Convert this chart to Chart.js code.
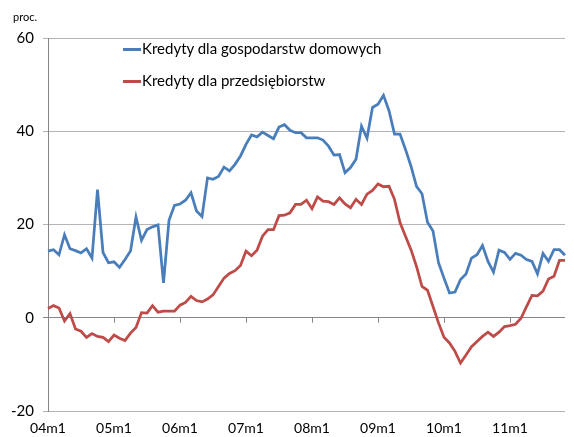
<!DOCTYPE html>
<html>
<head>
<meta charset="utf-8">
<script src="https://cdn.jsdelivr.net/npm/chart.js@4/dist/chart.umd.min.js"></script>
<style>
  html, body { margin: 0; padding: 0; background: #fff; }
  #wrap { position: relative; width: 574px; height: 437px; overflow: hidden; font-family: Lato, "Open Sans", sans-serif; }
  #c { position: absolute; left: 0; top: 0; }
  .unit { position: absolute; left: 13px; top: 10px; font-size: 11px; color: #000; }
  .leg { position: absolute; font-size: 15px; color: #000; white-space: nowrap; line-height: 16px; }
  .leg span.sw { display: inline-block; width: 18px; height: 3px; vertical-align: middle; margin-right: 1px; position: relative; top: -1px; }
</style>
</head>
<body>
<div id="wrap">
  <canvas id="c" width="574" height="437"></canvas>
  <div class="unit">proc.</div>
  <div class="leg" style="left:123px; top:40px;"><span class="sw" style="background:#4A7EBB"></span>Kredyty dla gospodarstw domowych</div>
  <div class="leg" style="left:123px; top:72px;"><span class="sw" style="background:#BE4B48"></span>Kredyty dla przedsiębiorstw</div>
</div>
<script>
// categories: months 2004m1 .. 2011m11
const years = ['04','05','06','07','08','09','10','11'];
const months = [];
years.forEach(y => { for (let m = 1; m <= 12; m++) months.push(y + 'm' + m); });
const categories = months.slice(0, 95);

const yTicks = [-20, 0, 20, 40, 60];

const households = [
  14.3, 14.6, 13.5, 17.8, 14.8, 14.4, 13.9, 14.8, 12.8, 27.5, 14.0, 11.8,
  12.0, 10.8, 12.5, 14.3, 21.6, 16.6, 18.9, 19.5, 19.9, 7.5, 20.9, 24.1,
  24.4, 25.2, 26.8, 22.9, 21.7, 30.0, 29.7, 30.3, 32.3, 31.5, 32.9, 34.7,
  37.2, 39.2, 38.8, 39.8, 39.1, 38.4, 40.9, 41.4, 40.2, 39.7, 39.7, 38.6,
  38.6, 38.6, 38.1, 36.8, 34.9, 35.0, 31.1, 32.2, 34.0, 41.1, 38.5, 45.1,
  45.8, 47.7, 44.4, 39.4, 39.4, 36.1, 32.5, 28.2, 26.6, 20.5, 18.6, 11.8,
  8.5, 5.3, 5.5, 8.2, 9.4, 12.8, 13.5, 15.5, 12.1, 9.8, 14.5, 14.0,
  12.5, 13.8, 13.4, 12.5, 12.1, 9.4, 13.8, 12.1, 14.6, 14.6, 13.4
];

const enterprises = [
  2.0, 2.6, 2.1, -0.7, 0.9, -2.4, -2.9, -4.2, -3.4, -4.0, -4.2, -5.1,
  -3.7, -4.4, -4.9, -3.3, -2.1, 1.1, 1.0, 2.6, 1.2, 1.4, 1.4, 1.4,
  2.7, 3.3, 4.6, 3.7, 3.4, 4.0, 4.9, 6.7, 8.5, 9.5, 10.1, 11.2,
  14.3, 13.3, 14.5, 17.5, 18.9, 18.9, 21.9, 22.0, 22.5, 24.3, 24.3, 25.2,
  23.4, 25.9, 25.0, 24.9, 24.3, 25.7, 24.4, 23.6, 25.4, 24.3, 26.5, 27.3,
  28.7, 28.1, 28.2, 25.4, 20.4, 17.5, 14.6, 11.0, 6.7, 5.9, 2.4, -1.1,
  -4.2, -5.4, -7.2, -9.7, -8.0, -6.2, -5.1, -4.0, -3.1, -4.0, -3.1, -1.9,
  -1.7, -1.4, -0.1, 2.4, 4.8, 4.7, 5.7, 8.3, 8.9, 12.3, 12.3
];

const seriesNames = ['Kredyty dla gospodarstw domowych', 'Kredyty dla przedsiębiorstw'];

const zeroTicks = {
  id: 'zeroTicks',
  beforeDatasetsDraw(chart) {
    const { ctx, scales } = chart;
    const y0 = scales.y.getPixelForValue(0);
    ctx.save();
    ctx.strokeStyle = '#868686';
    ctx.lineWidth = 1;
    ctx.beginPath();
    categories.forEach((c, i) => {
      if (i % 12 === 0 && i > 0) {
        const x = Math.round(scales.x.getPixelForValue(i)) + 0.5;
        ctx.moveTo(x, y0);
        ctx.lineTo(x, y0 + 5);
      }
    });
    ctx.stroke();
    ctx.restore();
  }
};

new Chart(document.getElementById('c'), {
  type: 'line',
  data: {
    labels: categories,
    datasets: [
      { label: seriesNames[0], data: households, borderColor: '#4A7EBB', backgroundColor: '#4A7EBB', borderWidth: 2.75, pointRadius: 0, tension: 0 },
      { label: seriesNames[1], data: enterprises, borderColor: '#BE4B48', backgroundColor: '#BE4B48', borderWidth: 2.75, pointRadius: 0, tension: 0 }
    ]
  },
  options: {
    responsive: false,
    devicePixelRatio: 1,
    animation: false,
    layout: { padding: { top: 38, right: 0, left: 0, bottom: 0 } },
    plugins: { legend: { display: false }, tooltip: { enabled: false } },
    scales: {
      x: {
        type: 'category',
        grid: { display: false, drawTicks: false },
        border: { display: false },
        ticks: {
          autoSkip: false,
          maxRotation: 0,
          minRotation: 0,
          padding: 9,
          color: '#000',
          font: { family: 'Lato', size: 14 },
          callback: function (v, i) { return i % 12 === 0 ? categories[i] : ''; }
        },
        afterFit(scale) { scale.height = 26; }
      },
      y: {
        min: yTicks[0],
        max: yTicks[yTicks.length - 1],
        afterBuildTicks(scale) { scale.ticks = yTicks.map(v => ({ value: v })); },
        grid: {
          color: (c) => (c.tick && c.tick.value === 0) ? '#868686' : '#b5b5b5',
          tickLength: 5,
          lineWidth: 1
        },
        border: { color: '#868686', width: 1 },
        ticks: {
          padding: 9,
          color: '#000',
          font: { family: 'Lato', size: 15 }
        },
        afterFit(scale) { scale.width = 48; }
      }
    }
  },
  plugins: [zeroTicks]
});
</script>
</body>
</html>
